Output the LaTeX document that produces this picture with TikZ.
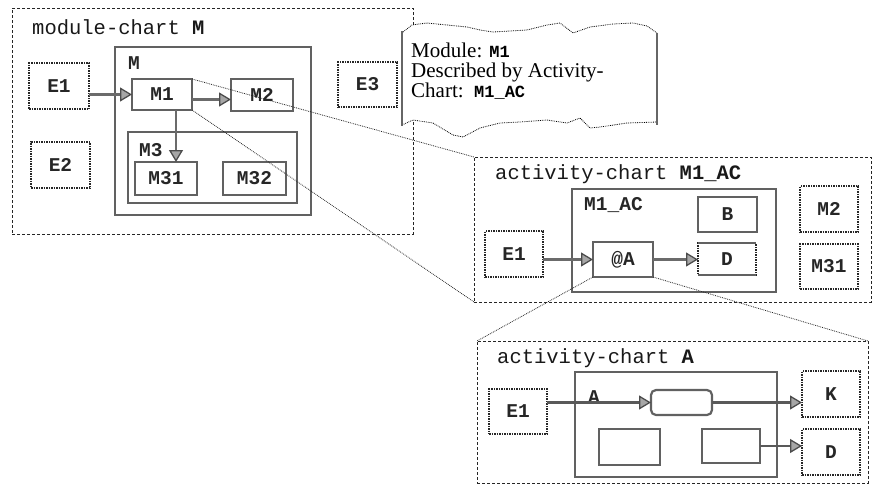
\documentclass[tikz,border=0pt]{standalone}
\usepackage{fontspec}
\setmainfont{Liberation Serif}
\newfontfamily\mono{Liberation Mono}
\newcommand\notemonofont{\mono\bfseries\fontsize{17}{18}\selectfont}
\usetikzlibrary{arrows.meta}
\tikzset{
  chart/.style={draw=black!85, densely dashed, line width=1pt, inner sep=0pt, outer sep=0pt, anchor=north west},
  modbox/.style={draw=black!62, line width=2.6pt, fill=white, inner sep=0pt, outer sep=0pt, anchor=north west, font=\mono\fontsize{19.5}{20}\selectfont\bfseries, text=black!85},
  extbox/.style={draw=black!85, densely dotted, line width=1.5pt, inner sep=0pt, outer sep=0pt, anchor=north west, font=\mono\fontsize{19.5}{20}\selectfont\bfseries, text=black!85},
  title/.style={anchor=west, inner sep=0pt, font=\mono\fontsize{20.5}{22}\selectfont, text=black!90},
  lbl/.style={anchor=west, inner sep=0pt, font=\mono\fontsize{19.5}{20}\selectfont\bfseries, text=black!85},
  flow/.style={draw=black!58, line width=2.8pt, -{Triangle[length=12pt,width=14pt,color=black!70,fill=black!35,line width=1.3pt]}},
  flowb/.style={draw=black!65, line width=2.2pt, -{Triangle[length=12pt,width=14pt,color=black!70,fill=black!35,line width=1.3pt]}},
  link/.style={draw=black!85, densely dotted, line width=0.8pt},
  notetxt/.style={anchor=base west, inner sep=0pt, font=\fontsize{21}{22}\selectfont},
}
\begin{document}
\begin{tikzpicture}[x=1pt,y=-1pt]
\useasboundingbox (0,0) rectangle (877,485);
% ---------------- module chart ----------------
\node[chart, minimum width=401pt, minimum height=226pt] (mc) at (12,8) {};
\node[title] (mct) at (32,27) {module-chart \textbf{M}};
\node[modbox, minimum width=196pt, minimum height=168pt] (mM) at (115,47) {};
\node[lbl] (mMl) at (128,63) {M};
\node[modbox, minimum width=60pt, minimum height=31pt] (M1) at (132,79) {M1};
\node[modbox, minimum width=62pt, minimum height=32pt] (M2) at (231,79) {M2};
\node[modbox, minimum width=169pt, minimum height=71pt] (M3) at (128,132) {};
\node[lbl] (M3l) at (139,150) {M3};
\node[modbox, minimum width=62pt, minimum height=33pt] (M31) at (135,162) {M31};
\node[modbox, minimum width=63pt, minimum height=33pt] (M32) at (223,162) {M32};
\node[extbox, minimum width=60pt, minimum height=46pt] (E1) at (29,63) {E1};
\node[extbox, minimum width=59pt, minimum height=46pt] (E2) at (31,142) {E2};
\node[extbox, minimum width=59pt, minimum height=45pt] (E3) at (338,62) {E3};
\draw[flow] (M1.west -| E1.east) -- (M1.west);
\draw[flow] ([yshift=-5pt]M1.east) -- ([yshift=-5pt]M1.east -| M2.west);
\draw[flow] ([xshift=14pt]M1.south) -- ([xshift=14pt]M1.south |- M31.north);
% ---------------- note ----------------
\fill[white] (403,32) -- (412,25) -- (427,23) -- (467,27) -- (480,30) -- (493,32) -- (527,30) -- (547,25) -- (560,23) -- (573,33) -- (590,27) -- (613,24) -- (633,23) -- (647,26) -- (657,33)
  -- (657,122) -- (627,123) -- (600,127) -- (590,128) -- (580,118) -- (567,123) -- (547,120) -- (520,122) -- (500,123) -- (480,128) -- (463,137) -- (453,135) -- (433,123) -- (413,120) -- (402,125) -- cycle;
\draw[densely dotted, line width=0.8pt] (403,32) -- (412,25) -- (427,23) -- (467,27) -- (480,30) -- (493,32) -- (527,30) -- (547,25) -- (560,23) -- (573,33) -- (590,27) -- (613,24) -- (633,23) -- (647,26) -- (657,33);
\draw[densely dotted, line width=0.8pt] (402,125) -- (413,120) -- (433,123) -- (453,135) -- (463,137) -- (480,128) -- (500,123) -- (520,122) -- (547,120) -- (567,123) -- (580,118) -- (590,128) -- (600,127) -- (627,123) -- (657,122);
\draw[black!60, line width=2.6pt] (402,31) -- (402,126);
\draw[black!60, line width=2.6pt] (657,33) -- (657,125);
\node[notetxt] (n1) at (411,57) {Module: {\notemonofont M1}};
\node[notetxt] (n2) at (411,77) {Described by Activity-};
\node[notetxt] (n3) at (411,97) {Chart:\ \ {\notemonofont M1\_AC}};
% ---------------- activity chart M1_AC ----------------
\node[chart, minimum width=397pt, minimum height=145pt] (ac) at (474,157) {};
\node[title] (act) at (495,174) {activity-chart \textbf{M1\_AC}};
\node[modbox, minimum width=204pt, minimum height=103pt] (mac) at (572,189) {};
\node[lbl] (macl) at (584,205) {M1\_AC};
\node[modbox, minimum width=59pt, minimum height=35pt] (B) at (698,197) {B};
\node[extbox, minimum width=58pt, minimum height=32pt] (Db) at (698,243) {D};
\draw[black!62, line width=2pt] (Db.north west) -- (Db.north east) (Db.south west) -- (Db.south east);
\node[modbox, minimum width=60pt, minimum height=35pt] (aA) at (593,242) {@A};
\node[extbox, minimum width=58pt, minimum height=46pt] (E1b) at (485,231) {E1};
\node[extbox, minimum width=58pt, minimum height=46pt] (M2b) at (800,186) {M2};
\node[extbox, minimum width=58pt, minimum height=45pt] (M31b) at (800,244) {M31};
\draw[flow] (aA.west -| E1b.east) -- (aA.west);
\draw[flow] (aA.east) -- (aA.east -| Db.west);
% ---------------- activity chart A ----------------
\node[chart, minimum width=391pt, minimum height=142pt] (acA) at (477,341) {};
\node[title] (acAt) at (497,358) {activity-chart \textbf{A}};
\node[modbox, minimum width=202pt, minimum height=105pt] (Ab) at (575,372) {};
\node[lbl] (Abl) at (588,397) {A};
\node[modbox, line width=2.2pt, rounded corners=5pt, minimum width=61pt, minimum height=25pt] (rnd) at (651,390) {};
\node[modbox, line width=2.2pt, minimum width=61pt, minimum height=36pt] (s1) at (599,429) {};
\node[modbox, line width=2.2pt, minimum width=58pt, minimum height=34pt] (s2) at (702,429) {};
\node[extbox, minimum width=58pt, minimum height=46pt] (K) at (802,371) {K};
\node[extbox, minimum width=58pt, minimum height=46pt] (Dc) at (802,429) {D};
\node[extbox, minimum width=58pt, minimum height=45pt] (E1c) at (489,389) {E1};
\draw[flowb] (rnd.west -| E1c.east) -- (rnd.west);
\draw[flowb] (rnd.east) -- (rnd.east -| K.west);
\draw[flowb] (s2.east) -- (s2.east -| Dc.west);
% ---------------- zoom links ----------------
\draw[link] (M1.north east) -- (ac.north west);
\draw[link] (M1.south east) -- (ac.south west);
\draw[link] (aA.south west) -- (acA.north west);
\draw[link] (aA.south east) -- (acA.north east);
\end{tikzpicture}
\end{document}
